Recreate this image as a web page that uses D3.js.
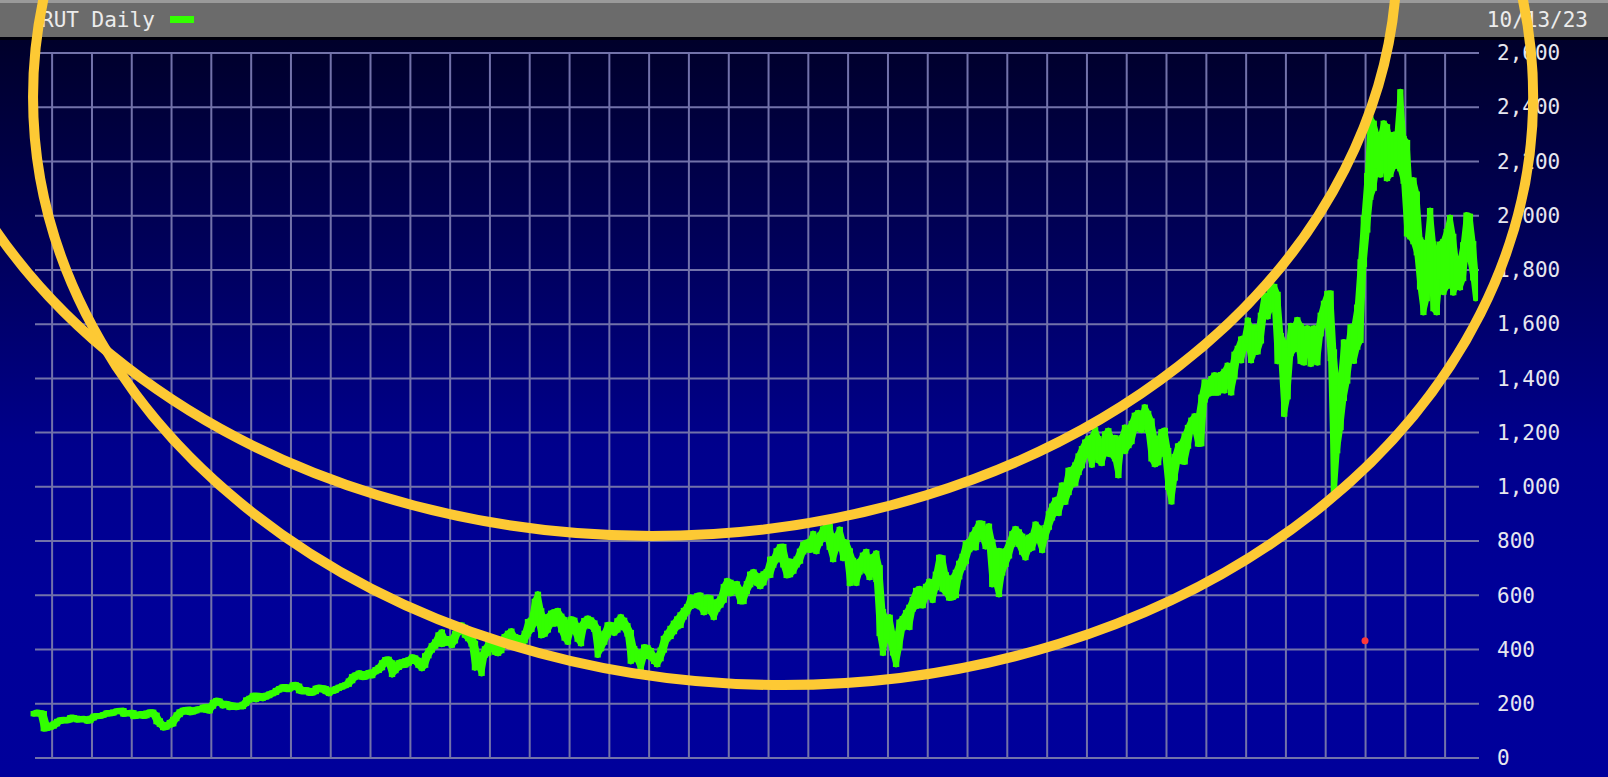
<!DOCTYPE html>
<html><head><meta charset="utf-8">
<script src="https://cdn.jsdelivr.net/npm/d3@7"></script>
<style>
html,body{margin:0;padding:0;background:#00009a;overflow:hidden}
svg{display:block}
</style></head><body>
<script>
// ---------- data ----------
const title = "RUT Daily";
const asOfLabel = "10/13/23";
const firstMonth = "1987-07-01";
const lastDay = "2023-10-13";
const yTicks = [0,200,400,600,800,1000,1200,1400,1600,1800,2000,2200,2400,2600];

// monthly low / high of the index, one row per year (1987 starts in July, 2023 ends in October)
const monthlyLow = [
  161,163,160,106,108,111,
  116,124,134,136,136,139,145,139,140,141,135,136,
  146,152,153,156,161,162,164,170,171,160,162,163,
  152,153,157,153,154,165,158,132,122,110,112,120,
  124,143,158,168,170,166,168,172,178,177,175,172,
  189,203,201,191,195,185,187,185,188,188,199,212,
  220,214,220,218,223,228,235,240,249,255,252,252,
  258,262,246,243,244,238,238,243,253,250,243,236,
  244,247,255,260,265,270,283,296,305,296,297,303,
  302,316,321,331,350,345,306,320,332,340,341,348,
  358,354,340,329,340,375,396,410,424,418,422,424,
  414,430,460,475,451,438,418,331,340,310,377,385,
  415,388,384,394,426,430,445,420,423,412,430,455,
  472,496,512,450,455,470,494,493,508,470,440,426,
  473,468,436,420,482,491,484,472,378,401,425,451,
  474,459,470,492,478,455,355,368,360,327,372,376,
  370,354,343,364,396,437,446,464,482,487,518,537,
  557,568,560,555,535,565,538,517,547,562,580,625,
  605,613,612,575,575,612,637,657,643,631,644,672,
  672,709,729,744,710,671,674,687,710,724,758,770,
  765,771,760,790,810,823,775,730,770,795,735,747,
  642,680,643,684,711,688,664,698,656,457,385,446,
  436,385,343,407,478,486,480,547,558,562,560,592,
  600,580,626,674,621,609,588,590,597,666,700,723,
  766,776,774,831,812,778,790,638,643,601,680,712,
  743,785,798,786,757,737,768,773,806,801,764,813,
  849,883,906,901,943,942,977,1007,1010,1051,1076,1115,
  1126,1079,1145,1096,1085,1127,1120,1117,1101,1040,1152,1130,
  1150,1165,1212,1215,1207,1235,1205,1101,1081,1087,1152,1118,
  996,943,1030,1100,1092,1090,1148,1217,1211,1156,1157,1318,
  1341,1345,1345,1345,1356,1353,1405,1345,1405,1482,1464,1509,
  1535,1464,1494,1496,1536,1636,1626,1660,1671,1461,1470,1266,
  1330,1489,1505,1536,1461,1456,1548,1451,1475,1456,1562,1610,
  1608,1471,966,1131,1216,1324,1388,1486,1462,1513,1538,1818,
  1945,2066,2099,2183,2149,2210,2135,2150,2180,2187,2171,2125,
  1931,1920,1902,1861,1735,1641,1692,1838,1655,1641,1773,1716,
  1738,1881,1714,1742,1733,1766,1877,1837,1768,1693
];
const monthlyHigh = [
  166,170,168,166,122,122,
  128,137,142,143,142,151,151,148,146,147,143,148,
  156,157,158,162,168,169,171,175,176,177,166,169,
  169,159,164,164,167,171,171,160,139,125,123,133,
  144,161,172,178,180,181,176,181,183,189,191,190,
  207,214,212,203,202,199,196,195,195,200,216,222,
  232,232,231,230,233,238,242,251,258,264,264,260,
  271,272,267,254,253,251,245,259,262,260,258,251,
  252,258,263,268,272,286,302,308,315,313,312,317,
  318,328,336,353,365,366,353,340,353,356,360,364,
  374,371,362,344,379,397,416,430,456,466,441,441,
  440,462,482,492,484,461,463,425,375,380,405,423,
  434,428,404,437,450,462,470,450,446,437,462,505,
  511,580,606,545,508,523,536,541,545,525,512,489,
  514,510,484,490,509,517,511,500,479,430,462,493,
  493,484,508,522,510,490,465,406,392,377,411,409,
  398,378,373,400,443,462,480,499,515,530,546,560,
  594,590,600,602,572,594,592,557,578,590,634,655,
  650,640,644,623,618,645,680,688,674,669,681,690,
  735,736,766,781,782,727,727,723,736,765,790,797,
  801,829,804,824,847,856,856,800,821,845,800,797,
  766,731,716,727,750,763,723,744,757,704,542,511,
  521,459,432,503,516,538,558,586,620,626,603,635,
  653,630,680,742,740,678,660,666,687,720,746,793,
  800,825,844,868,867,829,857,799,756,766,760,766,
  795,829,847,836,820,801,816,822,864,850,823,852,
  903,931,953,957,1008,1000,1063,1065,1083,1116,1143,1167,
  1180,1184,1213,1180,1143,1197,1209,1180,1183,1174,1183,1221,
  1210,1236,1266,1275,1257,1296,1273,1245,1180,1170,1205,1210,
  1136,1050,1114,1153,1160,1191,1221,1248,1263,1255,1333,1389,
  1378,1401,1414,1410,1416,1428,1450,1427,1491,1513,1547,1550,
  1616,1584,1591,1566,1635,1708,1695,1742,1741,1712,1560,1533,
  1505,1596,1590,1618,1595,1576,1587,1578,1587,1572,1635,1679,
  1715,1716,1500,1367,1403,1536,1502,1592,1592,1665,1832,1992,
  2150,2361,2343,2296,2290,2343,2330,2278,2301,2302,2459,2287,
  2272,2087,2133,2082,1913,1900,1893,2021,1898,1859,1897,1907,
  1944,1995,1926,1825,1831,1895,2004,2000,1899,1801
];
// a single red marker visible on the chart
const markerDate = "2020-12-27";
const markerValue = 432;
// hand-drawn annotation ellipses, bounding box in data units
const annotLeft   = ["1987-07-10", "1984-05-10"];
const annotRight  = ["2025-03-19", "2021-10-17"];
const annotTop    = [4606, 5097];
const annotBottom = [269, 819];

// ---------- chart ----------
const W = 1608, H = 777;
const parse = d3.timeParse("%Y-%m-%d");
const svg = d3.select("body").append("svg").attr("width", W).attr("height", H);

const x = d3.scaleTime().domain([new Date(1987,6,28), new Date(2023,10,8)]).range([35, 1479]);
const y = d3.scaleLinear().domain([0, 2600]).range([758, 53]);

const defs = svg.append("defs");
const grad = defs.append("linearGradient").attr("id","bg").attr("x1",0).attr("x2",0).attr("y1",0).attr("y2",1);
[[0,"#00002a"],[0.28,"#00005a"],[0.55,"#00008c"],[0.75,"#000098"],[1,"#00009b"]]
  .forEach(([o,c]) => grad.append("stop").attr("offset",o).attr("stop-color",c));

// background
svg.append("rect").attr("x",0).attr("y",39).attr("width",W).attr("height",H-39).attr("fill","url(#bg)");
svg.append("rect").attr("x",0).attr("y",0).attr("width",W).attr("height",38).attr("fill","#6b6b6b");
svg.append("rect").attr("x",0).attr("y",0).attr("width",W).attr("height",3).attr("fill","#9a9a9a");
svg.append("rect").attr("x",0).attr("y",37).attr("width",W).attr("height",3).attr("fill","#00000c");

// grid
const gridColor = "#7272aa";
const g = svg.append("g");
g.selectAll("line.h").data(yTicks).join("line")
  .attr("x1", x.range()[0]).attr("x2", x.range()[1])
  .attr("y1", d => y(d)).attr("y2", d => y(d))
  .attr("stroke", gridColor).attr("stroke-width", 2);
const yearLines = d3.timeYears(new Date(1988,0,1), new Date(2023,0,2));
g.selectAll("line.v").data(yearLines).join("line")
  .attr("x1", d => x(d)).attr("x2", d => x(d))
  .attr("y1", y(2600)).attr("y2", y(0))
  .attr("stroke", gridColor).attr("stroke-width", 2);

// y axis labels (right)
const yAxis = d3.axisRight(y).tickValues(yTicks).tickFormat(d3.format(",")).tickSize(0).tickPadding(0);
const ax = svg.append("g").attr("transform", "translate(1497,0)").call(yAxis);
ax.select(".domain").remove();
ax.selectAll("text").attr("fill","#e6e6ef").attr("font-family","'DejaVu Sans Mono', monospace")
  .attr("font-size", 21).attr("x", 0).attr("text-anchor","start");

// price band, monthly ranges
const months = d3.timeMonths(parse(firstMonth), new Date(2023,10,1));
const endDate = d3.timeDay.offset(parse(lastDay), 1);
const bars = months.map((m,i) => {
  const x1 = d3.min([d3.timeMonth.offset(m,1), endDate]);
  return { x0: m, x1: x1, mid: new Date((+m + +x1)/2), lo: monthlyLow[i], hi: monthlyHigh[i] };
});
const green = "#33ff00";
const band = d3.area().x(d => x(d.mid)).y0(d => y(d.lo)).y1(d => y(d.hi));
svg.append("path").datum(bars).attr("d", band)
  .attr("fill", green).attr("stroke", green).attr("stroke-width", 5).attr("stroke-linejoin","round");
svg.append("g").selectAll("rect").data(bars).join("rect")
  .attr("x", d => x(d.x0) + 0.5).attr("width", d => Math.max(0.5, x(d.x1) - x(d.x0) - 1))
  .attr("y", d => y(d.hi)).attr("height", d => y(d.lo) - y(d.hi))
  .attr("fill", green).attr("stroke", green).attr("stroke-width", 4);

// marker
svg.append("circle").attr("cx", x(parse(markerDate))).attr("cy", y(markerValue)).attr("r",3.5).attr("fill","#ff3838");

// header texts
svg.append("text").attr("x",41).attr("y",27).text(title)
  .attr("font-family","'DejaVu Sans Mono', monospace").attr("font-size",21).attr("fill","#ececec");
svg.append("rect").attr("x",170).attr("y",16).attr("width",24).attr("height",7).attr("fill",green);
svg.append("text").attr("x",1588).attr("y",27).attr("text-anchor","end").text(asOfLabel)
  .attr("font-family","'DejaVu Sans Mono', monospace").attr("font-size",21).attr("fill","#ececec");

// annotation ellipses
const ell = annotLeft.map((l,i) => {
  const xl = x(parse(l)), xr = x(parse(annotRight[i]));
  const yt = y(annotTop[i]), yb = y(annotBottom[i]);
  return {cx:(xl+xr)/2, cy:(yt+yb)/2, rx:(xr-xl)/2, ry:(yb-yt)/2};
});
svg.append("g").selectAll("ellipse").data(ell).join("ellipse")
  .attr("cx", d=>d.cx).attr("cy", d=>d.cy).attr("rx", d=>d.rx).attr("ry", d=>d.ry)
  .attr("fill","none").attr("stroke","#fdc934").attr("stroke-width",10);
</script>
</body></html>
